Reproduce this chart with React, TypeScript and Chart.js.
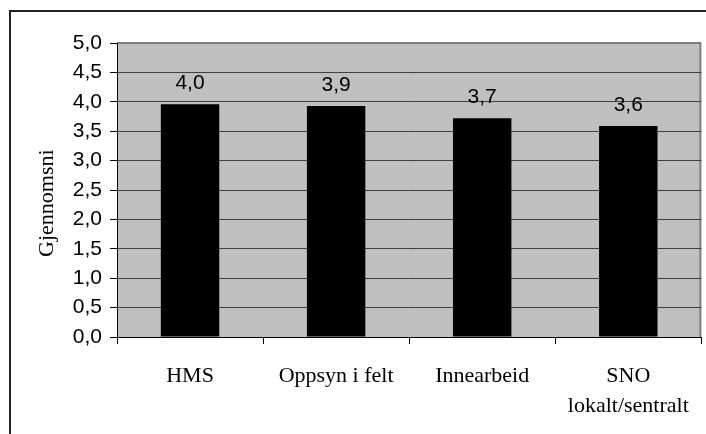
import React, { useEffect, useRef } from "react";
import { Chart, registerables } from "chart.js";

Chart.register(...registerables);

const categories: (string | string[])[] = ["HMS", "Oppsyn i felt", "Innearbeid", ["SNO", "lokalt/sentralt"]];
const values: number[] = [3.96, 3.93, 3.72, 3.59];
const yMin = 0;
const yMax = 5;
const yStep = 0.5;
const yTitle = "Gjennomsni";

const fmt = (v: number) => v.toFixed(1).replace(".", ",");

const decorPlugin = {
  id: "decor",
  beforeDraw(chart: any) {
    const { ctx, chartArea } = chart;
    ctx.save();
    ctx.fillStyle = "#ffffff";
    ctx.fillRect(0, 0, chart.width, chart.height);
    ctx.fillStyle = "#c0c0c0";
    ctx.fillRect(chartArea.left, chartArea.top, chartArea.right - chartArea.left, chartArea.bottom - chartArea.top);
    ctx.strokeStyle = "#808080";
    ctx.lineWidth = 2;
    ctx.beginPath();
    ctx.moveTo(chartArea.left, chartArea.top);
    ctx.lineTo(chartArea.right - 1, chartArea.top);
    ctx.lineTo(chartArea.right - 1, chartArea.bottom);
    ctx.stroke();
    // outer frame (clipped in the reference)
    ctx.strokeStyle = "#222";
    ctx.lineWidth = 2;
    ctx.beginPath();
    ctx.moveTo(10, chart.height + 2);
    ctx.lineTo(10, 11);
    ctx.lineTo(chart.width + 2, 11);
    ctx.stroke();
    ctx.restore();
  },
  afterDraw(chart: any) {
    const { ctx } = chart;
    const meta = chart.getDatasetMeta(0);
    ctx.save();
    ctx.fillStyle = "#000";
    ctx.font = "21px 'Liberation Sans', Arial, sans-serif";
    ctx.textAlign = "center";
    ctx.textBaseline = "middle";
    meta.data.forEach((bar: any, i: number) => {
      ctx.fillText(fmt(values[i]), bar.x, bar.y - 21);
    });
    // y axis title
    ctx.font = "22px 'Liberation Serif', 'Times New Roman', serif";
    ctx.textAlign = "left";
    ctx.textBaseline = "alphabetic";
    ctx.translate(53, 257);
    ctx.rotate(-Math.PI / 2);
    ctx.fillText(yTitle, 0, 0);
    ctx.restore();
  },
};

export default function App() {
  const ref = useRef<HTMLCanvasElement | null>(null);
  useEffect(() => {
    if (!ref.current) return;
    const chart = new Chart(ref.current, {
      type: "bar",
      data: {
        labels: categories,
        datasets: [
          {
            data: values,
            backgroundColor: "#000000",
            borderWidth: 0,
            categoryPercentage: 1,
            barPercentage: 0.4,
          },
        ],
      },
      options: {
        animation: false,
        responsive: true,
        maintainAspectRatio: false,
        layout: { padding: { top: 43, right: 2, left: 0, bottom: 0 } },
        plugins: { legend: { display: false }, tooltip: { enabled: false } },
        scales: {
          x: {
            offset: true,
            grid: {
              offset: true,
              drawOnChartArea: false,
              drawTicks: true,
              tickLength: 7,
              color: "#000",
              tickColor: "#000",
            },
            border: { color: "#000", width: 1 },
            ticks: {
              color: "#000",
              padding: 17,
              maxRotation: 0,
              autoSkip: false,
              font: { family: "'Liberation Serif', 'Times New Roman', serif", size: 22, lineHeight: 1.36 },
            },
            afterFit(scale: any) {
              scale.height = 97;
            },
          },
          y: {
            min: yMin,
            max: yMax,
            grid: {
              color: (c: any) => (c.tick && c.tick.value === yMax ? "#808080" : "#404040"),
              tickColor: "#000",
              tickLength: 7,
              lineWidth: 1,
            },
            border: { color: "#000", width: 1 },
            ticks: {
              stepSize: yStep,
              color: "#000",
              padding: 8,
              font: { family: "'Liberation Sans', Arial, sans-serif", size: 21 },
              callback: (v: any) => fmt(Number(v)),
            },
            afterFit(scale: any) {
              scale.width = 117;
            },
          },
        },
      },
      plugins: [decorPlugin],
    });
    return () => chart.destroy();
  }, []);
  return (
    <div style={{ position: "fixed", left: 0, top: 0, width: 706, height: 434 }}>
      <canvas ref={ref} />
    </div>
  );
}
